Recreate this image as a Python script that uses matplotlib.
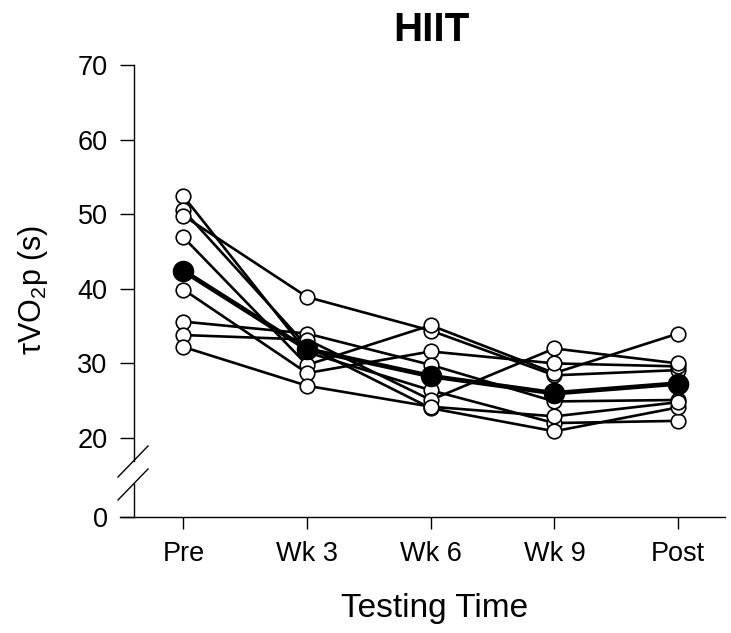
import numpy as np
import matplotlib
matplotlib.use("Agg")
import matplotlib.pyplot as plt
from matplotlib.lines import Line2D

plt.rcParams['font.family'] = ['Liberation Sans', 'DejaVu Sans']
plt.rcParams['mathtext.fontset'] = 'custom'
plt.rcParams['mathtext.rm'] = 'Liberation Sans'
plt.rcParams['mathtext.default'] = 'regular'

# Data
times = ['Pre', 'Wk 3', 'Wk 6', 'Wk 9', 'Post']
subj_a = [52.4, 31.5, 26.4, 22.0, 22.3]
subj_b = [50.5, 32.3, 24.0, 20.9, 24.1]
subj_c = [49.8, 38.9, 34.4, 28.4, 29.1]
subj_d = [46.9, 29.8, 35.1, 28.7, 34.0]
subj_e = [39.9, 28.7, 31.6, 30.0, 29.6]
subj_f = [35.6, 34.0, 29.8, 24.9, 25.1]
subj_g = [33.8, 33.2, 25.1, 32.0, 30.0]
subj_h = [32.2, 27.0, 24.2, 22.9, 24.8]
group_mean = [42.4, 31.9, 28.3, 26.0, 27.3]

subjects = [subj_a, subj_b, subj_c, subj_d, subj_e, subj_f, subj_g, subj_h]
x = np.arange(len(times))

fig = plt.figure(figsize=(7.31, 6.33), dpi=100)
W, H = 731.0, 633.0
left = 134 / W
width = 591 / W

# upper part (20-70) and lower part (0) of the broken y axis
ax = fig.add_axes([left, (H - 461) / H, width, 396 / H])
axb = fig.add_axes([left, (H - 517) / H, width, 33 / H])

for s in subjects:
    ax.plot(x, s, '-', color='black', lw=1.9, zorder=2, clip_on=False)
for s in subjects:
    ax.plot(x, s, 'o', ms=10.5, mfc='white', mec='black', mew=1.2, zorder=3, clip_on=False)
ax.plot(x, group_mean, '-o', color='black', lw=3.4, ms=14.5, mfc='black', mec='black', zorder=4, clip_on=False)

ax.set_xlim(-0.4, 4.38)
axb.set_xlim(-0.4, 4.38)
ax.set_ylim(70 - 396 / 7.46, 70)
axb.set_ylim(0, 33 / 7.46)

ax.set_yticks([20, 30, 40, 50, 60, 70])
axb.set_yticks([0])
ax.set_xticks([])
axb.set_xticks(x)
axb.set_xticklabels(times)

for a in (ax, axb):
    a.spines['top'].set_visible(False)
    a.spines['right'].set_visible(False)
    a.patch.set_alpha(0)
    for sp in a.spines.values():
        sp.set_linewidth(1.0)
    a.tick_params(axis='y', direction='out', length=10, width=1.0, pad=9, labelsize=19.5)
    a.tick_params(axis='x', direction='out', length=8.5, width=1.0, pad=9, labelsize=19.5)
ax.spines['bottom'].set_visible(False)

# x axis line sticks out left of the y axis
axb.add_line(Line2D([-14 / 591, 0], [0, 0], transform=axb.transAxes, color='black', lw=1.0, clip_on=False))

# break marks
for y0, y1 in [(477, 446), (500, 469)]:
    fig.add_artist(Line2D([118 / W, 148 / W], [1 - y0 / H, 1 - y1 / H], color='black', lw=1.0))

fig.text(431 / W, 1 - 30 / H, 'HIIT', fontsize=29, fontweight='bold', ha='center', va='center')
fig.text(435 / W, 1 - 609 / H, 'Testing Time', fontsize=24, ha='center', va='center')
fig.text(33 / W, 1 - 290 / H, 'τVO$_2$p (s)', fontsize=22, rotation=90, ha='center', va='center')

fig.savefig('out.png', dpi=100)
